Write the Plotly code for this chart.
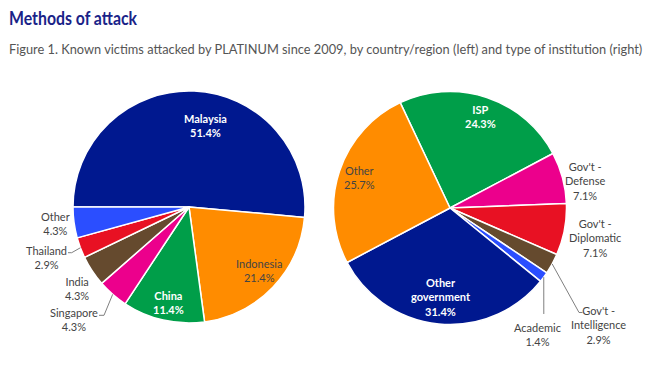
import math
import plotly.graph_objects as go

W, H = 655, 368

# ---- data ----
country_labels = ["Malaysia", "Indonesia", "China", "Singapore", "India", "Thailand", "Other"]
country_counts = [36, 15, 8, 3, 3, 2, 3]
inst_labels = ["ISP", "Gov't -<br>Defense", "Gov't -<br>Diplomatic", "Gov't -<br>Intelligence",
               "Academic", "Other<br>government", "Other"]
inst_counts = [17, 5, 5, 2, 1, 22, 18]

country_colors = ["#00188F", "#FF8C00", "#009E49", "#EC008C", "#654A2E", "#E81123", "#2B4EFF"]
inst_colors = ["#009E49", "#EC008C", "#E81123", "#654A2E", "#2B4EFF", "#00188F", "#FF8C00"]

FONT = "Lato, 'Open Sans', sans-serif"
TITLE = "Methods of attack"

# pie geometry (pixels)
L_C, L_R, L_ROT = (189, 207), 116, 270
R_C, R_R, R_ROT = (450, 208), 116.5, -25.3


def dom(c, r):
    return dict(x=[(c[0] - r) / W, (c[0] + r) / W],
                y=[1 - (c[1] + r) / H, 1 - (c[1] - r) / H])


def px(x, y):
    return x / W, 1 - y / H


def mid_angles(vals, rot):
    tot = sum(vals)
    out, cum = [], 0
    for v in vals:
        out.append(rot + (cum + v / 2) / tot * 360)
        cum += v
    return out


def edge(c, r, ang):
    a = math.radians(ang)
    return c[0] + r * math.sin(a), c[1] - r * math.cos(a)


fig = go.Figure()
fig.add_trace(go.Pie(labels=country_labels, values=country_counts, sort=False,
                     direction="clockwise", rotation=L_ROT, textinfo="none",
                     marker=dict(colors=country_colors, line=dict(color="white", width=1.5)),
                     domain=dom(L_C, L_R), showlegend=False, hoverinfo="label+percent"))
fig.add_trace(go.Pie(labels=inst_labels, values=inst_counts, sort=False,
                     direction="clockwise", rotation=R_ROT, textinfo="none",
                     marker=dict(colors=inst_colors, line=dict(color="white", width=1.5)),
                     domain=dom(R_C, R_R), showlegend=False, hoverinfo="label+percent"))

annotations = []
WHITE, DARK = "white", "#444444"
left_pos = [(205, 125, WHITE, True), (259, 270, DARK, False), (169, 302.5, WHITE, True),
            (73.5, 319.5, DARK, False), (77, 288, DARK, False), (46, 257.5, DARK, False),
            (55, 223.5, DARK, False)]
right_pos = [(480, 116, WHITE, True), (584.5, 181, DARK, False), (595, 238, DARK, False),
             (598, 324.5, DARK, False), (537, 334.5, DARK, False), (441, 297, WHITE, True),
             (359.5, 177, DARK, False)]

for labels, vals, pos in [(country_labels, country_counts, left_pos),
                          (inst_labels, inst_counts, right_pos)]:
    tot = sum(vals)
    for lab, v, (x, y, col, bold) in zip(labels, vals, pos):
        txt = f"{lab}<br>{100 * v / tot:.1f}%"
        if bold:
            txt = f"<b>{txt}</b>"
        xx, yy = px(x, y)
        annotations.append(dict(x=xx, y=yy, xref="paper", yref="paper", text=txt,
                                showarrow=False, xanchor="center", yanchor="middle",
                                font=dict(family=FONT, size=11, color=col)))

# leader lines
shapes = []
la = mid_angles(country_counts, L_ROT)
ra = mid_angles(inst_counts, R_ROT)
leaders = [
    (edge(L_C, L_R, la[3]), [(104, 315.3), (99, 315.3)]),
    (edge(L_C, L_R, la[5]), [(71.7, 252.7), (68, 252.7)]),
    (edge(R_C, R_R, ra[3]), [(579, 312.5), (582.5, 312.5)]),
    (edge(R_C, R_R, ra[4]), [(543.8, 314)]),
]
for start, pts in leaders:
    allp = [start] + pts
    path = "M " + " L ".join(f"{px(a, b)[0]:.5f},{px(a, b)[1]:.5f}" for a, b in allp)
    shapes.append(dict(type="path", xref="paper", yref="paper", path=path,
                       line=dict(color="#7f7f7f", width=1)))

# title + subtitle
annotations.append(dict(x=7 / W, y=1 - 17 / H, xref="paper", yref="paper",
                        text=TITLE, showarrow=False,
                        xanchor="left", yanchor="middle",
                        font=dict(family=FONT, size=19, weight=700, color="#1a2388")))
annotations.append(dict(x=7 / W, y=1 - 49 / H, xref="paper", yref="paper",
                        text="Figure 1. Known victims attacked by PLATINUM since 2009, by country/region (left) and type of institution (right)",
                        showarrow=False, xanchor="left", yanchor="middle",
                        font=dict(family=FONT, size=12.8, color="#555555")))

fig.update_layout(width=W, height=H, margin=dict(l=0, r=0, t=0, b=0),
                  paper_bgcolor="white", plot_bgcolor="white",
                  annotations=annotations, shapes=shapes)

post = """
document.body.style.margin='0';
document.querySelectorAll('.annotation-text').forEach(function(t){
  if (t.textContent === '%s') {
    var b1 = t.getBBox();
    t.setAttribute('textLength', '128');
    t.setAttribute('lengthAdjust', 'spacingAndGlyphs');
    var b2 = t.getBBox();
    var x0 = parseFloat(t.getAttribute('x') || '0');
    t.setAttribute('x', x0 + (b1.x - b2.x));
  }
});
""" % TITLE

fig.write_html("out.html", post_script=post, config={"displayModeBar": False})
